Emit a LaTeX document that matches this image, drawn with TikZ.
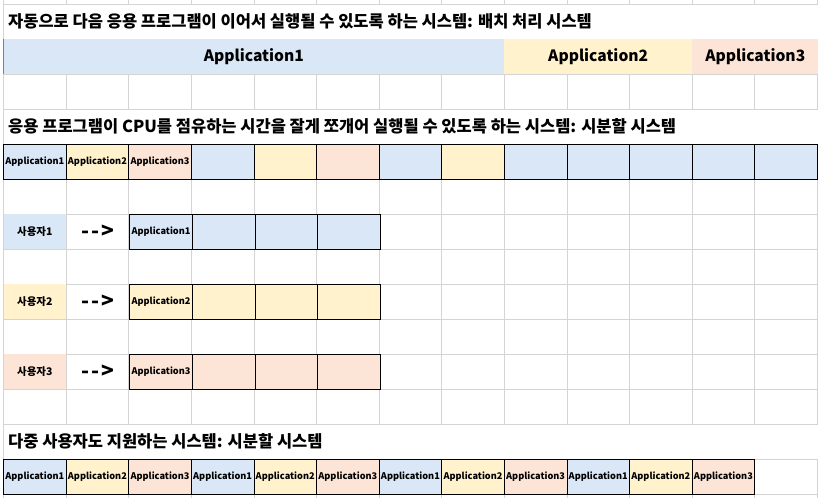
\documentclass[tikz,border=0pt]{standalone}
\usepackage{fontspec}
\setmainfont{Noto Sans CJK KR}
\usetikzlibrary{positioning}

\definecolor{app1}{HTML}{DAE7F7}
\definecolor{app2}{HTML}{FFF2CC}
\definecolor{app3}{HTML}{FCE4D6}
\definecolor{gridgray}{HTML}{D4D4D4}

\begin{document}
\begin{tikzpicture}[x=1pt, y=-1pt,
    title/.style={anchor=west, inner sep=0pt, font=\bfseries\fontsize{16.5}{19}\selectfont},
    band/.style={minimum height=35pt, inner sep=0pt, outer sep=0pt, anchor=north west, font=\bfseries\fontsize{15.6}{19}\selectfont},
    cell/.style={draw=black, line width=0.8pt, minimum width=62.6pt, minimum height=35pt, inner sep=0pt, outer sep=0pt, anchor=north west, font=\bfseries\fontsize{9.2}{11}\selectfont},
    user/.style={minimum width=62.6pt, minimum height=35pt, inner sep=0pt, outer sep=0pt, anchor=north west, font=\bfseries\fontsize{10.5}{12}\selectfont},
    gridline/.style={draw=gridgray, line width=0.8pt}]

    \useasboundingbox[fill=white] (0,0) rectangle (818,498);

    % sheet grid
    \foreach \r in {0,...,14} \draw[gridline] (3,4+35*\r) -- (818,4+35*\r);
    \foreach \c in {1,...,13} {
        \draw[gridline] (3.5+62.6*\c,0) -- (3.5+62.6*\c,4);
        \draw[gridline] (3.5+62.6*\c,74) -- (3.5+62.6*\c,109);
        \draw[gridline] (3.5+62.6*\c,144) -- (3.5+62.6*\c,424);
        \draw[gridline] (3.5+62.6*\c,459) -- (3.5+62.6*\c,498);
    }
    \draw[gridline] (3.5,0) -- (3.5,498);

    % batch
    \node[title] (batchtitle) at (8,21.5) {자동으로 다음 응용 프로그램이 이어서 실행될 수 있도록 하는 시스템: 배치 처리 시스템};
    \node[band, fill=app1, minimum width=500.8pt] (batch1) at (3.5,39) {Application1};
    \node[band, fill=app2, minimum width=187.8pt, right=0pt of batch1] (batch2) {Application2};
    \node[band, fill=app3, minimum width=126.3pt, right=0pt of batch2] (batch3) {Application3};
    \draw[gray, line width=1.2pt] (batch1.north west) -- (batch1.south west);

    % time sharing
    \node[title] (sharetitle) at (8,126.5) {응용 프로그램이 CPU를 점유하는 시간을 잘게 쪼개어 실행될 수 있도록 하는 시스템: 시분할 시스템};
    \foreach [count=\i from 0] \a/\txt in {1/Application1, 2/Application2, 3/Application3, 1/{}, 2/{}, 3/{}, 1/{}, 2/{}, 1/{}, 1/{}, 1/{}, 1/{}, 1/{}}
        \node[cell, fill=app\a] (slice\i) at (3.5+62.6*\i,144) {\txt};

    % users
    \foreach \u/\y in {1/214, 2/284, 3/354} {
        \node[user, fill=app\u] (user\u) at (3.5,\y) {사용자\u};
        \node[right=0pt of user\u, minimum width=62.6pt, inner sep=0pt, font=\bfseries\fontsize{21}{24}\selectfont] (arrow\u) {-\kern2pt-\kern2pt>};
        \node[cell, fill=app\u] (job\u) at (129.7,\y) {Application\u};
        \foreach \k in {1,2,3}
            \node[cell, fill=app\u] (job\u-\k) at (129.7+62.6*\k,\y) {};
    }

    % multi user
    \node[title] (multititle) at (8,441.5) {다중 사용자도 지원하는 시스템: 시분할 시스템};
    \foreach \i in {0,...,11} {
        \pgfmathtruncatemacro{\a}{mod(\i,3)+1}
        \node[cell, fill=app\a] (multi\i) at (3.5+62.6*\i,459) {Application\a};
    }
\end{tikzpicture}
\end{document}
